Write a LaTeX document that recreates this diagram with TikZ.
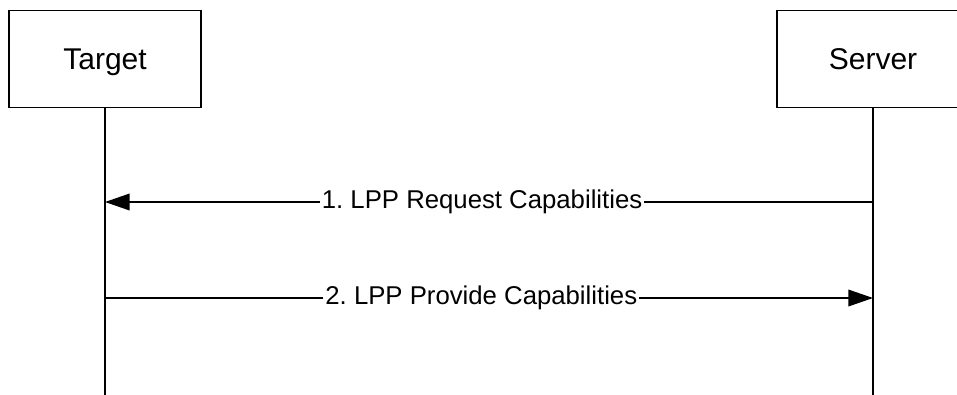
\documentclass[tikz,border=0pt]{standalone}
\usepackage{fontspec}
\setmainfont{Liberation Sans}
\usetikzlibrary{arrows.meta}
\frenchspacing

\begin{document}
\begin{tikzpicture}[
      x=0.75pt, y=-0.75pt,
      entity/.style={draw, line width=1.1pt, minimum width=144pt, minimum height=72.4pt, inner sep=0pt, text height=16.1pt, text depth=0pt, font=\fontsize{22.5}{27}\selectfont},
      lifeline/.style={line width=1.1pt},
      msg/.style={line width=1.1pt, -{Triangle[length=18.5pt,width=12.5pt]}},
      msglabel/.style={fill=white, inner sep=1.5pt, font=\fontsize{19.3}{23}\selectfont}
    ]
    \useasboundingbox (0,0) rectangle (957,394);
    \node[entity] (target) at (105,59) {Target};
    \node[entity] (server) at (873,59) {Server};
    \coordinate (targetend) at (105,400);
    \coordinate (serverend) at (873,400);
    \draw[lifeline] (target.south) -- (targetend);
    \draw[lifeline] (server.south) -- (serverend);
    % messages
    \coordinate (reqfrom) at (873,202);
    \coordinate (reqto) at (105,202);
    \coordinate (provfrom) at (105,298);
    \coordinate (provto) at (873,298);
    \draw[msg] (reqfrom) -- node[msglabel,pos=0.509] (reqlabel) {1. LPP Request Capabilities} (reqto);
    \draw[msg] (provfrom) -- node[msglabel,pos=0.49] (provlabel) {2. LPP Provide Capabilities} (provto);
  \end{tikzpicture}
\end{document}
